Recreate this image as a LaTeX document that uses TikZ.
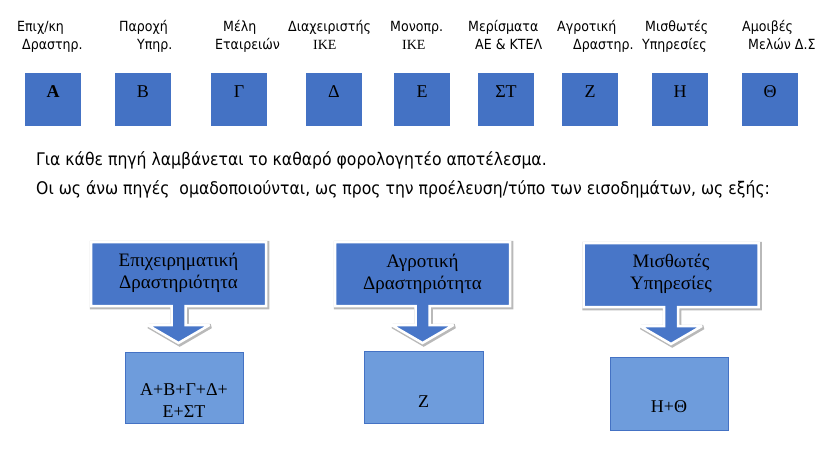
\documentclass[tikz,border=0pt]{standalone}
\usepackage{fontspec}
\setmainfont{Liberation Serif}
\newfontfamily\tahoma[FakeStretch=0.9]{DejaVu Sans}
\definecolor{boxblue}{RGB}{68,114,196}
\definecolor{calloutblue}{RGB}{72,118,200}
\definecolor{resultblue}{RGB}{110,156,220}

% callout outline, local coordinates (y grows downwards)
\newcommand{\calloutoutline}{(-87.5,-32) -- (87.5,-32) -- (87.5,32) -- (7,32)
  -- (7,51) -- (31,51) -- (0,69) -- (-31,51) -- (-7,51) -- (-7,32)
  -- (-87.5,32) -- cycle}

\begin{document}
\begin{tikzpicture}
  [x=1pt,y=-1pt,
   srcbox/.style={rectangle,fill=boxblue,minimum width=56pt,minimum height=53pt,inner sep=0pt},
   srcletter/.style={inner sep=0pt,font=\fontsize{18}{18}\selectfont},
   srclabel/.style={anchor=base west,inner sep=0pt,font=\tahoma\fontsize{14}{16}\selectfont},
   bodytext/.style={anchor=base west,inner sep=0pt,font=\tahoma\fontsize{17.4}{20}\selectfont},
   callout/.pic={
     \filldraw[fill=gray!55,draw=gray!55,line width=4.5pt,miter limit=3,shift={(1.2,1.2)}] \calloutoutline;
     \filldraw[fill=calloutblue,draw=white,line width=2.5pt,miter limit=3] \calloutoutline;
   },
   callouttext/.style={inner sep=0pt,align=center,font=\fontsize{19}{22}\selectfont},
   resbox/.style={rectangle,fill=resultblue,draw=boxblue,line width=1pt,inner sep=0pt},
   restext/.style={inner sep=0pt,align=center,font=\fontsize{18}{22}\selectfont}]
  \useasboundingbox (0,0) rectangle (823,452);

  % sources
  \foreach \name/\x/\letter in {a/53/\textbf{Α}, b/143/Β, g/239/Γ, d/334/Δ, e/422/Ε,
                                st/506/ΣΤ, z/590/Ζ, h/680/Η, th/770/Θ}
  {
    \node[srcbox] (\name) at (\x,99.5) {};
    \node[srcletter] (\name-t) at (\x,92) {\letter};
  }
  \foreach \name/\xa/\one/\xb/\two in {a/17/{Επιχ/κη}/22/Δραστηρ.,
      b/119/Παροχή/137/Υπηρ., g/223/Μέλη/215/Εταιρειών,
      d/288/Διαχειριστής/313/{\rmfamily ΙΚΕ}, e/390/Μονοπρ./402/{\rmfamily ΙΚΕ},
      st/468/Μερίσματα/475/ΑΕ \& ΚΤΕΛ, z/557/Αγροτική/573/Δραστηρ.,
      h/645/Μισθωτές/642/Υπηρεσίες, th/742/Αμοιβές/748/Μελών Δ.Σ}
  {
    \node[srclabel] (\name-l1) at (\xa,32) {\one};
    \node[srclabel] (\name-l2) at (\xb,50) {\two};
  }

  \node[bodytext] (p1) at (36,165) {Για κάθε πηγή λαμβάνεται το καθαρό φορολογητέο αποτέλεσμα.};
  \node[bodytext] (p2) at (36,194) {Οι ως άνω πηγές \ ομαδοποιούνται, ως προς την προέλευση/τύπο των εισοδημάτων, ως εξής:};

  % groups
  \pic at (178.5,274) {callout};
  \pic at (422.5,274) {callout};
  \pic at (671,275) {callout};
  \node[callouttext] (c1) at (178.5,273) {Επιχειρηματική\\Δραστηριότητα};
  \node[callouttext] (c2) at (422.5,273.5) {Αγροτική\\Δραστηριότητα};
  \node[callouttext] (c3) at (671,274) {Μισθωτές\\Υπηρεσίες};

  \node[resbox,minimum width=118pt,minimum height=71pt] (r1) at (184,387.5) {};
  \node[resbox,minimum width=119pt,minimum height=72pt] (r2) at (423.5,387) {};
  \node[resbox,minimum width=118pt,minimum height=73pt] (r3) at (669,393.5) {};
  \node[restext] (r1-t) at (184,401) {Α+Β+Γ+Δ+\\Ε+ΣΤ};
  \node[restext] (r2-t) at (423.5,402) {Ζ};
  \node[restext] (r3-t) at (669,407) {Η+Θ};
\end{tikzpicture}
\end{document}
